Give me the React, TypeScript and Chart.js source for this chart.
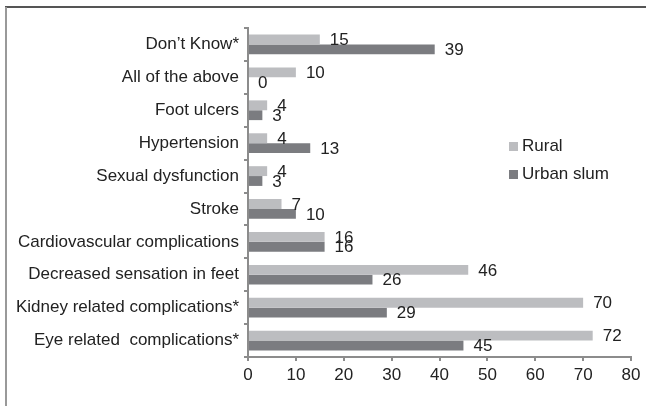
import React, { useEffect, useRef } from "react";
import { Chart, registerables } from "chart.js";

Chart.register(...registerables);

const categories = [
  "Don\u2019t Know*",
  "All of the above",
  "Foot ulcers",
  "Hypertension",
  "Sexual dysfunction",
  "Stroke",
  "Cardiovascular complications",
  "Decreased sensation in feet",
  "Kidney related complications*",
  "Eye related  complications*",
];
const ruralValues = [15, 10, 4, 4, 4, 7, 16, 46, 70, 72];
const urbanValues = [39, 0, 3, 13, 3, 10, 16, 26, 29, 45];
const xTicks = [0, 10, 20, 30, 40, 50, 60, 70, 80];

const FONT = '"Liberation Sans", Arial, sans-serif';
const FS = 17;
const TEXT = "#222222";
const AXIS = "#8c8c8c";
const RURAL = "#bcbdc0";
const URBAN = "#7b7c80";

const framePlugin = {
  id: "frame",
  beforeDraw(chart: any) {
    const ctx = chart.ctx;
    ctx.save();
    ctx.fillStyle = "#ffffff";
    ctx.fillRect(0, 0, chart.width, chart.height);
    ctx.strokeStyle = "#555555";
    ctx.lineWidth = 2;
    ctx.beginPath();
    ctx.moveTo(5, 7);
    ctx.lineTo(chart.width, 7);
    ctx.stroke();
    ctx.strokeStyle = "#999999";
    ctx.beginPath();
    ctx.moveTo(6, 7);
    ctx.lineTo(6, chart.height);
    ctx.stroke();
    ctx.restore();
  },
};

const labelPlugin = {
  id: "valueLabels",
  afterDatasetsDraw(chart: any) {
    const ctx = chart.ctx;
    ctx.save();
    ctx.font = `${FS}px ${FONT}`;
    ctx.fillStyle = TEXT;
    ctx.textAlign = "left";
    ctx.textBaseline = "middle";
    chart.data.datasets.forEach((ds: any, di: number) => {
      const meta = chart.getDatasetMeta(di);
      meta.data.forEach((el: any, i: number) => {
        ctx.fillText(String(ds.data[i]), el.x + 10, el.y + 1);
      });
    });
    ctx.restore();
  },
};

const legendPlugin = {
  id: "sideLegend",
  afterDraw(chart: any) {
    const ctx = chart.ctx;
    ctx.save();
    ctx.font = `${FS}px ${FONT}`;
    ctx.textAlign = "left";
    ctx.textBaseline = "middle";
    const ys = [146, 174];
    chart.data.datasets.forEach((ds: any, di: number) => {
      const y = ys[di];
      ctx.fillStyle = ds.backgroundColor;
      ctx.fillRect(509, y - 4, 9, 9);
      ctx.fillStyle = TEXT;
      ctx.fillText(ds.label, 522, y);
    });
    ctx.restore();
  },
};

export default function App() {
  const ref = useRef<HTMLCanvasElement>(null);
  useEffect(() => {
    if (!ref.current) return;
    const chart = new Chart(ref.current, {
      type: "bar",
      data: {
        labels: categories,
        datasets: [
          { label: "Rural", data: ruralValues, backgroundColor: RURAL, categoryPercentage: 0.6, barPercentage: 1 },
          { label: "Urban slum", data: urbanValues, backgroundColor: URBAN, categoryPercentage: 0.6, barPercentage: 1 },
        ],
      },
      options: {
        indexAxis: "y",
        responsive: false,
        animation: false,
        layout: { padding: { top: 28, right: 15, left: 0, bottom: 0 } },
        plugins: { legend: { display: false }, tooltip: { enabled: false } },
        scales: {
          x: {
            min: 0,
            max: 80,
            afterBuildTicks: (scale: any) => {
              scale.ticks = xTicks.map((v) => ({ value: v }));
            },
            afterFit: (scale: any) => {
              scale.height = 49;
            },
            ticks: { color: TEXT, font: { size: FS, family: FONT }, padding: 4 },
            grid: { drawOnChartArea: false, drawTicks: true, tickLength: 4, color: AXIS, lineWidth: 2 },
            border: { display: true, color: AXIS, width: 2 },
          },
          y: {
            afterFit: (scale: any) => {
              scale.width = 248;
            },
            ticks: { color: TEXT, font: { size: FS, family: FONT }, padding: 5, autoSkip: false },
            grid: { drawOnChartArea: false, drawTicks: true, tickLength: 4, color: AXIS, lineWidth: 2, offset: true },
            border: { display: true, color: AXIS, width: 2 },
          },
        },
      },
      plugins: [framePlugin, labelPlugin, legendPlugin],
    } as any);
    return () => chart.destroy();
  }, []);
  return (
    <div style={{ position: "fixed", left: 0, top: 0, width: 646, height: 406, background: "#fff" }}>
      <canvas ref={ref} width={646} height={406} style={{ width: 646, height: 406, display: "block" }} />
    </div>
  );
}
